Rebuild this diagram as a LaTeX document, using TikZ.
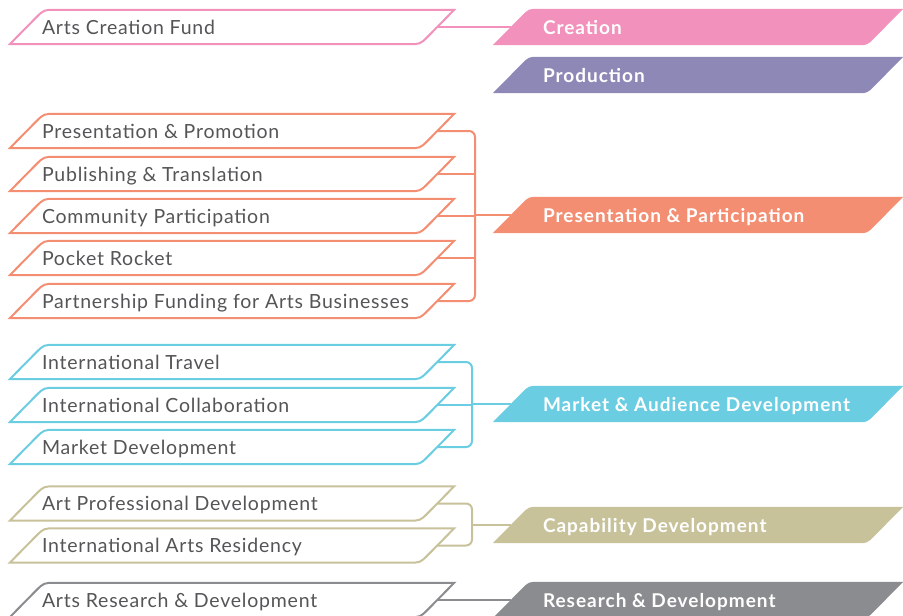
\documentclass[tikz,border=0pt]{standalone}
\usepackage{fontspec}
\setmainfont{Lato}
\newfontfamily\lfont{Lato}[LetterSpace=4]
\newfontfamily\rfont{Lato}[LetterSpace=5.2]
\usetikzlibrary{calc,backgrounds}
\definecolor{cpink}{HTML}{F291BB}
\definecolor{cpurple}{HTML}{8E88B7}
\definecolor{corange}{HTML}{F48E72}
\definecolor{ccyan}{HTML}{6BCDE1}
\definecolor{ckhaki}{HTML}{C8C29B}
\definecolor{cgray}{HTML}{8B8C8F}
\definecolor{ltext}{HTML}{555557}
\tikzset{
 lbox/.style={minimum width=444pt, minimum height=34pt, inner sep=0pt, text height=14pt, text depth=0pt, font=\lfont\fontsize{19.5}{21}\selectfont, text=ltext},
 rbox/.style={minimum width=410pt, minimum height=36pt, inner sep=0pt, text height=14pt, text depth=0pt, font=\rfont\fontsize{19}{21}\selectfont\bfseries, text=white},
 conn/.style={line width=2pt, rounded corners=6pt},
 lshapestyle/.style={line width=2pt},
}
\newcommand\lshape[2]{\draw[lshapestyle, draw=#2] (#1.south west) -- ($(#1.north west)+(26,8)$) .. controls ($(#1.north west)+(34,0)$) .. ($(#1.north west)+(46,0)$) -- (#1.north east) -- ($(#1.south east)+(-26,-8)$) .. controls ($(#1.south east)+(-34,0)$) .. ($(#1.south east)+(-46,0)$) -- cycle;}
\newcommand\rshape[2]{\fill[#2] (#1.south west) -- ($(#1.north west)+(29,7)$) .. controls ($(#1.north west)+(36,0)$) .. ($(#1.north west)+(46,0)$) -- (#1.north east) -- ($(#1.south east)+(-29,-7)$) .. controls ($(#1.south east)+(-36,0)$) .. ($(#1.south east)+(-46,0)$) -- cycle;}
\newcommand\lnode[4]{\node[lbox] (#1) at (232,#2) {\makebox[380pt][l]{#4}};
 \begin{scope}[on background layer]\lshape{#1}{#3}\end{scope}}
\newcommand\rnode[4]{\node[rbox] (#1) at (698,#2) {\makebox[310pt][l]{#4}};
 \begin{scope}[on background layer]\rshape{#1}{#3}\end{scope}}
\begin{document}
\begin{tikzpicture}[x=1pt,y=-1pt]
\useasboundingbox (0,0) rectangle (903,616);
% left boxes
\lnode{l1}{27}{cpink}{Arts Creation Fund}
\lnode{l2}{131}{corange}{Presentation \& Promotion}
\lnode{l3}{174}{corange}{Publishing \& Translation}
\lnode{l4}{216}{corange}{Community Participation}
\lnode{l5}{258}{corange}{Pocket Rocket}
\lnode{l6}{301}{corange}{Partnership Funding for Arts Businesses}
\lnode{l7}{362}{ccyan}{International Travel}
\lnode{l8}{405}{ccyan}{International Collaboration}
\lnode{l9}{447}{ccyan}{Market Development}
\lnode{l10}{503.5}{ckhaki}{Art Professional Development}
\lnode{l11}{545.5}{ckhaki}{International Arts Residency}
\lnode{l12}{600}{cgray}{Arts Research \& Development}
% right boxes
\rnode{r1}{27}{cpink}{Creation}
\rnode{r2}{75}{cpurple}{Production}
\rnode{r3}{215}{corange}{Presentation \& Participation}
\rnode{r4}{404}{ccyan}{Market \& Audience Development}
\rnode{r5}{525}{ckhaki}{Capability Development}
\rnode{r6}{600}{cgray}{Research \& Development}
% bracket coordinates
\coordinate (ob) at (475,0);
\coordinate (cb) at (472,0);
% connectors
\draw[conn, cpink] ($(l1.east)+(-17,0)$) -- ($(r1.west)+(18,0)$);
\draw[conn, corange] ($(l2.east)+(-17,0)$) -| (ob |- l6.east) -- ($(l6.east)+(-17,0)$);
\foreach \n in {l3,l4,l5}{\draw[conn, corange] ($(\n.east)+(-17,0)$) -- (ob |- \n.east);}
\draw[conn, corange] (ob |- r3.west) -- ($(r3.west)+(18,0)$);
\draw[conn, ccyan] ($(l7.east)+(-17,0)$) -| (cb |- l9.east) -- ($(l9.east)+(-17,0)$);
\draw[conn, ccyan] ($(l8.east)+(-17,0)$) -- (cb |- l8.east);
\draw[conn, ccyan] (cb |- r4.west) -- ($(r4.west)+(18,0)$);
\draw[conn, ckhaki] ($(l10.east)+(-17,0)$) -| (cb |- l11.east) -- ($(l11.east)+(-17,0)$);
\draw[conn, ckhaki] (cb |- r5.west) -- ($(r5.west)+(18,0)$);
\draw[conn, cgray] ($(l12.east)+(-17,0)$) -- ($(r6.west)+(18,0)$);
\end{tikzpicture}
\end{document}
